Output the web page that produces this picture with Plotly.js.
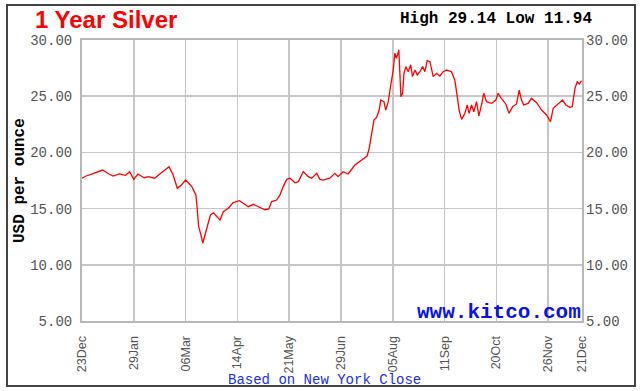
<!DOCTYPE html>
<html>
<head>
<meta charset="utf-8">
<script src="https://cdn.plot.ly/plotly-3.0.1.min.js"></script>
<style>
  html, body { margin: 0; padding: 0; background: #ffffff; }
  #chart { width: 641px; height: 391px; }
</style>
</head>
<body>
<div id="chart"></div>
<script>
// Trading-day position (25 sessions between labelled gridlines)
const dayIndex = [
  0, 2, 5, 10, 13, 15, 18, 21, 23, 25, 27, 30, 32, 35, 38, 42, 44, 46, 48, 50,
  53, 55, 55.5, 56.3, 57.4, 58.3, 60, 62, 63.5, 65, 66.6, 68.2, 70.6, 73, 75.9, 77.8,
  80.2, 82.7, 85, 86.7, 88.3, 90.2, 91.5, 93.9, 95.5, 97.2, 98.8, 100.4, 102.8, 104.4,
  106.8, 109.2, 110.8, 113.3, 114.8, 116.4, 119.6, 122, 123.6, 126, 128.4, 131.7, 134.9,
  137.6, 138.6, 139.8, 140.9, 142.2, 143.4, 144.2, 145.7, 146.6, 147.8, 148.9, 150.2,
  151, 151.8, 152.9, 153.4, 153.9, 154.7, 155.4, 156.3, 157.4, 158.6, 159.5, 160.7,
  161.8, 163.1, 164.4, 165.5, 166.6, 167.9, 169.5, 171.1, 172.7, 174.3, 175.9, 178.3,
  179.9, 181.1, 182, 183.2, 184.8, 185.9, 186.8, 188, 189.1, 190.4, 191.5, 192.8, 193.9,
  195.2, 197.6, 199.7, 200.8, 202.4, 204.5, 206.1, 207.8, 209.7, 211, 212.1, 213.2,
  215.3, 216.9, 219.4, 221.8, 224.2, 226.1, 227.4, 229.8, 231.9, 233.5, 235.4, 236.6,
  237.9, 239, 240, 241.1
];
// Silver price, USD per ounce
const price = [
  17.70, 17.90, 18.08, 18.43, 18.08, 17.90, 18.08, 17.96, 18.28, 17.60, 18.08, 17.75, 17.84, 17.70, 18.14, 18.73, 17.99, 16.80, 17.10, 17.54,
  16.95, 16.20, 15.17, 13.39, 12.65, 11.94, 13.10, 14.43, 14.63, 14.34, 13.98, 14.72, 15.03, 15.53, 15.70, 15.47,
  15.17, 15.38, 15.17, 15.03, 14.90, 14.97, 15.62, 15.76, 16.20, 17.00, 17.60, 17.70, 17.30, 17.40,
  18.30, 17.84, 17.70, 18.14, 17.60, 17.54, 17.70, 18.14, 17.84, 18.28, 18.08, 18.88, 19.32,
  19.68, 20.36, 21.70, 22.88, 23.12, 23.77, 24.66, 24.51, 23.77, 24.51, 25.85, 27.33,
  28.82, 28.37, 29.14, 27.04, 24.96, 25.26, 27.04, 27.63, 27.18, 27.78, 26.74, 27.33,
  26.89, 27.18, 27.63, 27.18, 28.16, 28.07, 26.74, 27.04, 26.80, 27.18, 27.33, 27.18,
  26.44, 24.96, 23.77, 22.94, 23.48, 24.22, 23.48, 24.22, 23.62, 24.51, 23.24, 24.22, 25.26,
  24.51, 24.36, 24.66, 25.26, 24.81, 24.31, 23.48, 24.07, 24.31, 25.55, 24.66, 24.22,
  24.36, 24.81, 24.42, 23.77, 23.33, 22.73, 23.92, 24.31, 24.66, 24.22, 24.01, 24.07,
  25.70, 26.29, 26.09, 26.38
];
const tickDays = [0, 25, 50, 75, 100, 125, 150, 175, 200, 225, 241.3];
const tickLabels = ['23Dec', '29Jan', '06Mar', '14Apr', '21May', '29Jun', '05Aug', '11Sep', '20Oct', '26Nov', '21Dec'];
const yTicks = [5, 10, 15, 20, 25, 30];
const titleText = '1 Year Silver';
const highLowText = 'High 29.14 Low 11.94';
const yTitleText = 'USD per ounce';
const sourceText = 'www.kitco.com';
const noteText = 'Based on New York Close';

const gridColor = '#c6c6c6';
const tickFont = {family: 'Liberation Mono, DejaVu Sans Mono, monospace', size: 14, color: '#555555'};

const traces = [
  {x: dayIndex, y: price, type: 'scatter', mode: 'lines',
   line: {color: '#ff0000', width: 1.3}, hoverinfo: 'skip', xaxis: 'x', yaxis: 'y'},
  {x: dayIndex, y: price, type: 'scatter', mode: 'lines',
   line: {color: 'rgba(0,0,0,0)', width: 0}, hoverinfo: 'skip', xaxis: 'x', yaxis: 'y2', showlegend: false}
];

const layout = {
  width: 641, height: 391,
  margin: {l: 82, r: 59, t: 40, b: 70, pad: 0},
  paper_bgcolor: '#ffffff', plot_bgcolor: '#ffffff',
  showlegend: false,
  title: {text: titleText, font: {family: 'Liberation Sans, Arial, sans-serif', size: 24, color: '#ff0000', weight: 'bold'},
          x: 35/641, xanchor: 'left', xref: 'container', y: 1 - 20/391, yanchor: 'middle', yref: 'container'},
  xaxis: {
    range: [0, 241.3], tickmode: 'array', tickvals: tickDays, ticktext: tickLabels,
    tickangle: -90, ticks: 'outside', ticklen: 8, tickcolor: 'rgba(0,0,0,0)',
    tickfont: {family: 'Liberation Sans, Arial, sans-serif', size: 12.5, color: '#555555'},
    showgrid: true, gridcolor: gridColor, gridwidth: 1.5,
    showline: true, linecolor: '#b8b8b8', linewidth: 2, mirror: true, zeroline: false, fixedrange: true
  },
  yaxis: {
    range: [5, 30], tickmode: 'array', tickvals: yTicks, tickformat: '.2f',
    ticks: '', ticklabelstandoff: 5, tickfont: tickFont,
    showgrid: true, gridcolor: gridColor, gridwidth: 1.5,
    showline: true, linecolor: '#b8b8b8', linewidth: 2, mirror: true, zeroline: false, fixedrange: true
  },
  yaxis2: {
    overlaying: 'y', side: 'right', range: [5, 30], tickmode: 'array', tickvals: yTicks, tickformat: '.2f',
    ticks: '', ticklabelstandoff: 3, tickfont: tickFont,
    showgrid: false, zeroline: false, showline: false, fixedrange: true
  },
  annotations: [
    {text: highLowText, xref: 'paper', yref: 'paper', x: (594-82)/500, y: (321-19)/281,
     xanchor: 'right', yanchor: 'middle', showarrow: false,
     font: {family: 'Liberation Mono, DejaVu Sans Mono, monospace', size: 16, color: '#000000', weight: 'bold'}},
    {text: yTitleText, xref: 'paper', yref: 'paper', x: (20-82)/500, y: (321-181)/281,
     xanchor: 'center', yanchor: 'middle', textangle: -90, showarrow: false,
     font: {family: 'Liberation Mono, DejaVu Sans Mono, monospace', size: 16, color: '#000000', weight: 'bold'}},
    {text: sourceText, xref: 'paper', yref: 'paper', x: (583-82)/500, y: (321-312)/281,
     xanchor: 'right', yanchor: 'middle', showarrow: false,
     font: {family: 'Liberation Mono, DejaVu Sans Mono, monospace', size: 21, color: '#0a14e6', weight: 'bold'}},
    {text: noteText, xref: 'paper', yref: 'paper', x: (324-82)/500, y: (321-380)/281,
     xanchor: 'center', yanchor: 'middle', showarrow: false,
     font: {family: 'Liberation Mono, DejaVu Sans Mono, monospace', size: 14, color: '#1a2ee6'}}
  ],
  shapes: [
    {type: 'rect', xref: 'paper', yref: 'paper',
     x0: (7-82)/500, x1: (635-82)/500, y0: (321-386)/281, y1: (321-5)/281,
     line: {color: '#444444', width: 2}, fillcolor: 'rgba(0,0,0,0)', layer: 'below'}
  ]
};

Plotly.newPlot('chart', traces, layout, {staticPlot: true, displayModeBar: false});
</script>
</body>
</html>
